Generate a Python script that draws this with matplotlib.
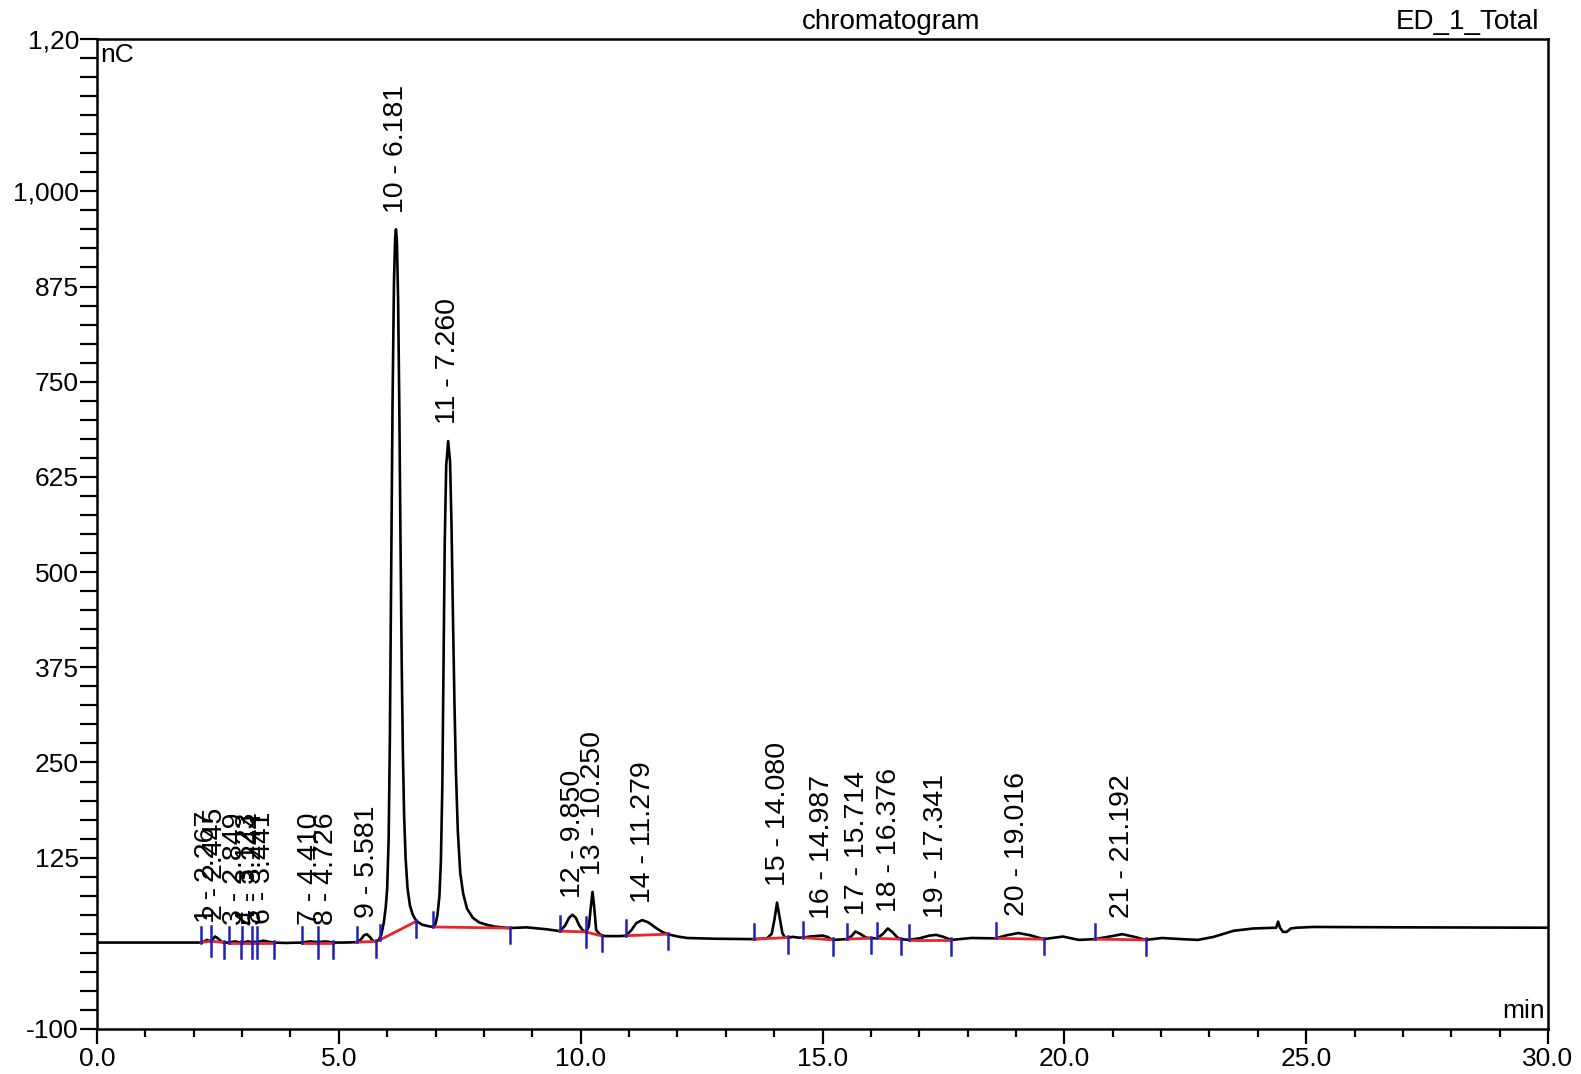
"""
Chromatogram ED_1_Total redrawn from the reference picture
"""

import matplotlib
matplotlib.use("Agg")
import matplotlib.pyplot as plt
import numpy as np
from matplotlib.ticker import FixedLocator, MultipleLocator

plt.rcParams['font.family'] = ['Liberation Sans', 'DejaVu Sans']

# detector trace (time in min, signal in nC)
trace_t = [0.0, 1.0, 2.10,
           2.15, 2.22, 2.27, 2.33, 2.38, 2.44, 2.50, 2.58, 2.62,
           2.73, 2.85, 2.97,
           3.05, 3.12, 3.20, 3.25, 3.30, 3.44, 3.55, 3.66, 3.90, 4.10,
           4.23, 4.41, 4.57, 4.73, 4.88, 5.10, 5.37,
           5.45, 5.52, 5.58, 5.64, 5.70, 5.76, 5.82,
           5.88, 5.93, 5.97, 6.00, 6.03, 6.055, 6.08, 6.11, 6.14, 6.165, 6.181,
           6.20, 6.225, 6.25, 6.275, 6.30, 6.325, 6.35, 6.38, 6.42, 6.47, 6.53,
           6.60, 6.72, 6.85, 6.95,
           7.00, 7.04, 7.08, 7.11, 7.14, 7.165, 7.19, 7.22, 7.26, 7.30, 7.33,
           7.36, 7.39, 7.42, 7.46, 7.51, 7.57, 7.65, 7.77, 7.90, 8.05, 8.22,
           8.53, 8.88, 9.29, 9.57,
           9.68, 9.76, 9.83, 9.90, 9.97, 10.05, 10.12,
           10.17, 10.21, 10.245, 10.28, 10.32, 10.40, 10.50, 10.80, 10.94,
           11.05, 11.15, 11.27, 11.40, 11.55, 11.70, 11.80, 12.00, 12.20,
           12.80, 13.58,
           13.85, 13.95, 14.01, 14.06, 14.11, 14.17, 14.22, 14.28, 14.39, 14.50,
           14.59, 14.75, 15.00, 15.10, 15.21, 15.35, 15.50,
           15.60, 15.68, 15.78, 15.90, 16.00,
           16.13, 16.25, 16.35, 16.45, 16.55, 16.62,
           16.78, 17.00, 17.20, 17.35, 17.50, 17.66, 18.08, 18.58,
           18.80, 19.05, 19.30, 19.57, 19.97, 20.30, 20.63,
           20.90, 21.20, 21.45, 21.68, 22.02, 22.43, 22.76,
           23.09, 23.50, 23.91, 24.38, 24.42, 24.46, 24.52, 24.60, 24.68,
           24.80, 25.14, 27.00, 30.0]
trace_nc = [13.5, 13.5, 13.5,
            13.5, 15, 17, 15.5, 17, 21.5, 19, 14.5, 13.5,
            13.5, 15, 13.5,
            14, 15, 14, 14.5, 14, 16, 14.5, 13.5, 13, 13.3,
            13.5, 15, 14, 15, 13.5, 13.5, 14,
            17, 23, 24.5, 21, 16, 15, 16.5,
            24, 40, 60, 85, 150, 280, 480, 720, 880, 940, 950,
            935, 860, 720, 540, 380, 260, 180, 125, 85, 62, 50,
            42, 37, 35, 34,
            38, 50, 75, 120, 220, 380, 540, 640, 672, 645, 560,
            440, 330, 240, 160, 105, 78, 58, 46, 40, 37, 34.5,
            32.5, 33.5, 31, 28.5,
            36, 46, 50, 46, 36, 29, 28,
            35, 60, 80, 60, 30, 24, 22, 22, 22.5,
            30, 39, 43, 40, 33, 27, 24.5, 21.5, 19.5,
            18.5, 18,
            19, 25, 45, 66, 48, 26, 20.5, 20, 21, 20,
            20, 21.5, 22.7, 21, 17, 17.5, 18,
            22, 28, 25, 20, 19.3,
            19, 25, 32, 27, 20, 18,
            17, 19, 22.5, 23.6, 21, 17, 19.5, 19,
            23, 26, 23, 18, 21.4, 17, 18,
            21, 24.5, 21, 17, 19.5, 18, 17,
            21, 29, 32, 33, 41, 33, 27.5, 27.5, 32,
            33, 34, 33.5, 33]

# integrated peaks
peak_no = list(range(1, 22))
peak_rt = ["2.267", "2.445", "2.849", "3.123", "3.244", "3.441", "4.410",
           "4.726", "5.581", "6.181", "7.260", "9.850", "10.250", "11.279",
           "14.080", "14.987", "15.714", "16.376", "17.341", "19.016", "21.192"]
peak_top = [17, 21.5, 15, 15, 14.5, 16, 15, 15, 24.5, 950, 672, 50, 80, 43,
            66, 22.7, 28, 32, 23.6, 26, 24.5]
peak_start = [2.15, 2.35, 2.73, 3.00, 3.20, 3.30, 4.23, 4.57, 5.37, 5.85,
              6.95, 9.57, 10.10, 10.94, 13.58, 14.59, 15.50, 16.13, 16.78,
              18.58, 20.63]
peak_end = [2.35, 2.62, 2.97, 3.20, 3.30, 3.66, 4.57, 4.88, 5.76, 6.59,
            8.53, 10.10, 10.45, 11.80, 14.28, 15.21, 16.00, 16.62, 17.66,
            19.57, 21.68]
base_start = [13.5, 15.5, 13.5, 13.5, 13.5, 13.5, 13.5, 13.5, 14, 17,
              34, 28.5, 27.5, 22.5, 18, 20, 18, 19, 17, 19, 18]
base_end = [15.5, 13.5, 13.5, 13.5, 13.5, 13.5, 13.5, 13.5, 15, 41,
            32.5, 27.5, 22, 24.5, 20, 17, 19.3, 18, 17, 18, 17]

y_major = [-100, 125, 250, 375, 500, 625, 750, 875, 1000, 1200]
y_labels = ["-100", "125", "250", "375", "500", "625", "750", "875", "1,000", "1,20"]
x_major = [0, 5, 10, 15, 20, 25, 30]
x_labels = ["0.0", "5.0", "10.0", "15.0", "20.0", "25.0", "30.0"]

W, H = 1581, 1074
fig = plt.figure(figsize=(W / 100, H / 100), dpi=100)
ax = fig.add_axes([97 / W, 1 - 1029 / H, (1548 - 97) / W, (1029 - 39) / H])

ax.plot(trace_t, trace_nc, color='black', lw=1.9, zorder=3)

red = '#e8262a'
blue = '#1f1fc8'
for s, e, bs, be in zip(peak_start, peak_end, base_start, base_end):
    ax.plot([s, e], [bs, be], color=red, lw=2.0, zorder=4)
    ax.plot([s, s], [bs, bs + 20], color=blue, lw=1.8, zorder=5)
    ax.plot([e, e], [be + 2, be - 20], color=blue, lw=1.8, zorder=5)

for n, rt, top in zip(peak_no, peak_rt, peak_top):
    ax.annotate(f"{n} - {rt}", xy=(float(rt), top), xytext=(0, 12),
                textcoords='offset points', rotation=90, ha='center',
                va='bottom', fontsize=20.5, zorder=6)

ax.set_xlim(0, 30)
ax.set_ylim(-100, 1200)
ax.xaxis.set_major_locator(FixedLocator(x_major))
ax.set_xticklabels(x_labels)
ax.xaxis.set_minor_locator(MultipleLocator(1))
ax.yaxis.set_major_locator(FixedLocator(y_major))
ax.set_yticklabels(y_labels)
ax.yaxis.set_minor_locator(MultipleLocator(25))
ax.tick_params(axis='x', which='major', direction='out', length=11, width=1.6,
               labelsize=19, pad=2)
ax.tick_params(axis='x', which='minor', direction='out', length=6, width=1.6)
ax.tick_params(axis='y', which='both', direction='out', length=12, width=1.6,
               labelsize=19, pad=1)
for sp in ax.spines.values():
    sp.set_linewidth(1.8)

ax.text(0.002, 0.984, "nC", transform=ax.transAxes, ha='left', va='center', fontsize=19)
ax.text(0.998, 0.006, "min", transform=ax.transAxes, ha='right', va='bottom', fontsize=19)
fig.text(891 / W, 1 - 22 / H, "chromatogram", ha='center', va='center', fontsize=20)
fig.text(1539 / W, 1 - 22 / H, "ED_1_Total", ha='right', va='center', fontsize=20)

fig.savefig("out.png", dpi=100)
